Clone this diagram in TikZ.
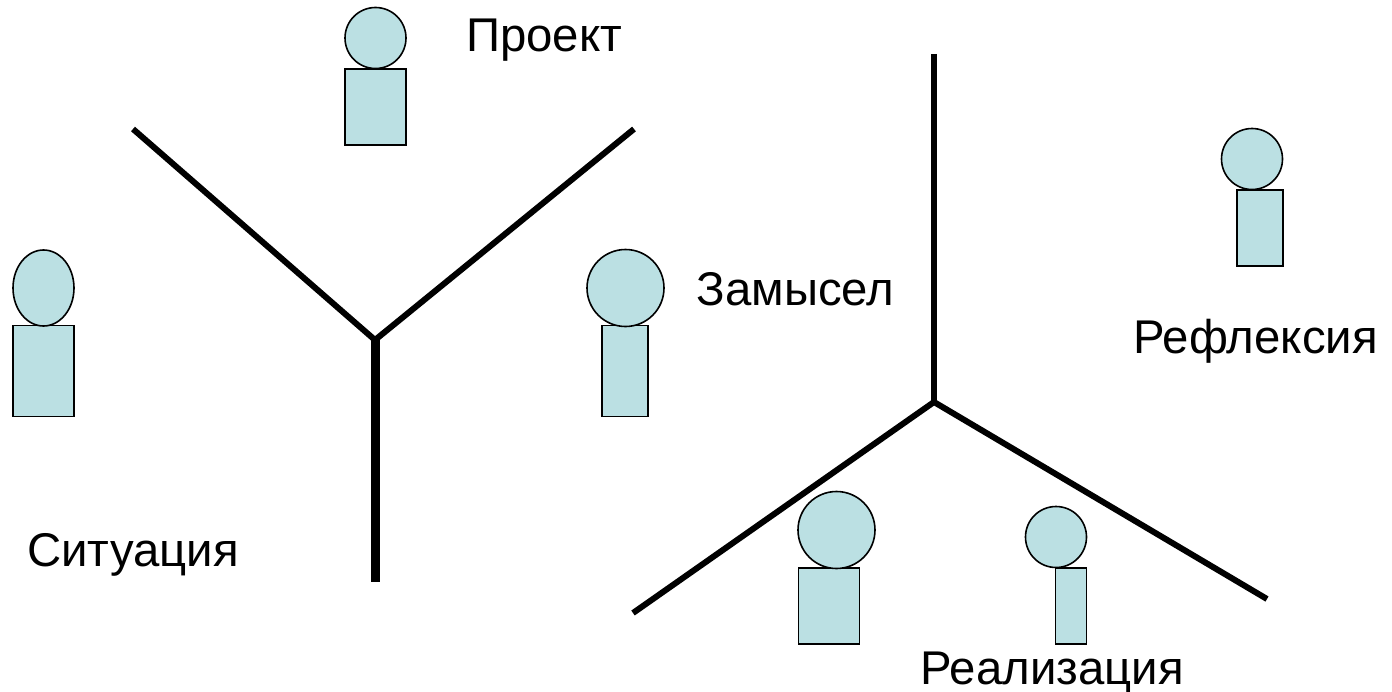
\documentclass[tikz,border=0pt]{standalone}
\usepackage{fontspec}
\setmainfont{Liberation Sans}
\usetikzlibrary{shapes,positioning}
\definecolor{figfill}{HTML}{BBE0E3}
\begin{document}
\begin{tikzpicture}[x=0.75pt,y=-0.75pt]
    \tikzstyle{head} = [ellipse, draw, fill=figfill, inner sep=0pt, line width=1.2pt]
    \tikzstyle{body} = [rectangle, draw, fill=figfill, inner sep=0pt, line width=1.2pt]
    \tikzstyle{label} = [inner sep=0pt, anchor=base, font=\fontsize{35.5}{43}\selectfont]
    \tikzstyle{bar} = [line width=4.5pt]
    \useasboundingbox (0,0) rectangle (1392,692);

    % Left fork
    \coordinate (forkA) at (375,340);
    \coordinate (forkAl) at (133,129);
    \coordinate (forkAr) at (634,129);
    \coordinate (forkAb) at (375,582);
    \draw [bar] (forkAl) -- (forkA) -- (forkAr);
    \draw [line width=6.75pt] (forkA) -- (forkAb);

    % Right fork
    \coordinate (forkB) at (934,402);
    \coordinate (forkBt) at (934,54);
    \coordinate (forkBl) at (633,613);
    \coordinate (forkBr) at (1267,599);
    \draw [bar] (forkBt) -- (forkB);
    \draw [bar] (forkBl) -- (forkB) -- (forkBr);

    % Proekt
    \node [body, minimum width=61pt*0.75, minimum height=76pt*0.75] (bodyP) at (375.5,107) {};
    \node [head, minimum width=61pt*0.75, minimum height=61pt*0.75] (headP) at (375.5,38) {};
    \node [label] (labelP) at (544,52) {Проект};

    % Situatsiya
    \node [body, minimum width=61pt*0.75, minimum height=91pt*0.75] (bodyS) at (43.5,371) {};
    \node [head, minimum width=61pt*0.75, minimum height=76pt*0.75] (headS) at (43.5,288) {};
    \node [label] (labelS) at (133,566) {Ситуация};

    % Zamysel
    \node [body, minimum width=46pt*0.75, minimum height=91pt*0.75] (bodyZ) at (625,371) {};
    \node [head, minimum width=77pt*0.75, minimum height=77pt*0.75] (headZ) at (625.5,288) {};
    \node [label] (labelZ) at (795.5,305) {Замысел};

    % Refleksiya
    \node [body, minimum width=46pt*0.75, minimum height=76pt*0.75] (bodyR) at (1260,228) {};
    \node [head, minimum width=61pt*0.75, minimum height=61pt*0.75] (headR) at (1252,159) {};
    \node [label] (labelR) at (1255.5,353) {Рефлексия};

    % Realizatsiya
    \node [body, minimum width=61pt*0.75, minimum height=76pt*0.75] (bodyL) at (829,606) {};
    \node [head, minimum width=77pt*0.75, minimum height=77pt*0.75] (headL) at (836.5,530) {};
    \node [body, minimum width=31pt*0.75, minimum height=76pt*0.75] (bodyM) at (1071,606) {};
    \node [head, minimum width=61pt*0.75, minimum height=61pt*0.75] (headM) at (1056,537) {};
    \node [label] (labelL) at (1052,684) {Реализация};
\end{tikzpicture}
\end{document}
